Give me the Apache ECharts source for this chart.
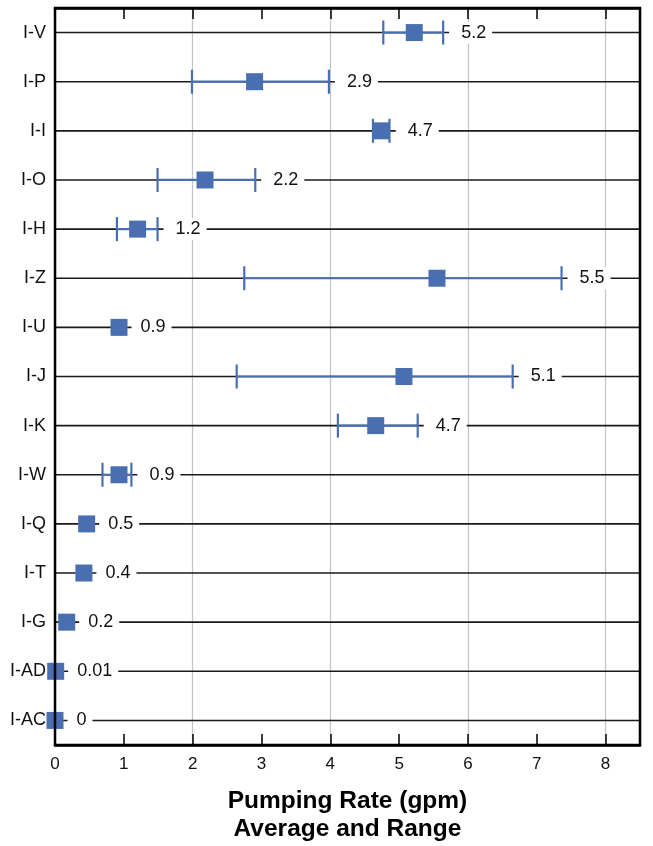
<!DOCTYPE html>
<html>
<head>
<meta charset="utf-8">
<script src="https://cdn.jsdelivr.net/npm/echarts@6/dist/echarts.min.js"></script>
<style>
html,body{margin:0;padding:0;background:#fff;}
#chart{width:653px;height:846px;}
</style>
</head>
<body>
<div id="chart"></div>
<script>
const categories = ['I-V','I-P','I-I','I-O','I-H','I-Z','I-U','I-J','I-K','I-W','I-Q','I-T','I-G','I-AD','I-AC'];
const averages   = [5.22, 2.90, 4.74, 2.18, 1.20, 5.55, 0.93, 5.07, 4.66, 0.93, 0.46, 0.42, 0.17, 0.01, 0];
const rangeLow   = [4.77, 1.99, 4.62, 1.49, 0.90, 2.75, null, 2.64, 4.11, 0.69, null, null, null, null, null];
const rangeHigh  = [5.64, 3.98, 4.86, 2.91, 1.49, 7.36, null, 6.65, 5.27, 1.11, null, null, null, null, null];
const valueLabels = ['5.2','2.9','4.7','2.2','1.2','5.5','0.9','5.1','4.7','0.9','0.5','0.4','0.2','0.01','0'];
const axisTitle = 'Pumping Rate (gpm)\nAverage and Range';

const BLUE = '#4a6fb1';
const FONT = '"Liberation Sans", Arial, Helvetica, sans-serif';

const seriesData = categories.map((c, i) => [
  i, averages[i],
  rangeLow[i] == null ? '-' : rangeLow[i],
  rangeHigh[i] == null ? '-' : rangeHigh[i]
]);

function renderItem(params, api) {
  const i = api.value(0);
  const mean = api.value(1);
  const lo = api.value(2), hi = api.value(3);
  const cs = params.coordSys;
  const c = api.coord([mean, i]);
  const y = c[1];
  const children = [];
  children.push({
    type: 'line', z2: 1,
    shape: {x1: cs.x, y1: y, x2: cs.x + cs.width, y2: y},
    style: {stroke: '#1a1a1a', lineWidth: 1.6}
  });
  const half = 8.5;
  let right = c[0] + half;
  let hasW = false;
  if (!isNaN(lo) && !isNaN(hi)) {
    hasW = true;
    const pl = api.coord([lo, i])[0], ph = api.coord([hi, i])[0];
    children.push({type: 'line', z2: 2, shape: {x1: pl, y1: y, x2: ph, y2: y}, style: {stroke: BLUE, lineWidth: 2.2}});
    children.push({type: 'line', z2: 2, shape: {x1: pl, y1: y - 12, x2: pl, y2: y + 12}, style: {stroke: BLUE, lineWidth: 2.2}});
    children.push({type: 'line', z2: 2, shape: {x1: ph, y1: y - 12, x2: ph, y2: y + 12}, style: {stroke: BLUE, lineWidth: 2.2}});
    right = Math.max(right, ph);
  }
  children.push({
    type: 'rect', z2: 3,
    shape: {x: c[0] - half, y: y - half, width: half * 2, height: half * 2},
    style: {fill: BLUE}
  });
  const boxStart = right + (hasW ? 6 : 4);
  const padL = hasW ? 12 : 9;
  children.push({
    type: 'text', z2: 4,
    x: boxStart, y: y,
    style: {
      text: valueLabels[i],
      fill: '#111',
      font: '18px ' + FONT,
      align: 'left', verticalAlign: 'middle',
      backgroundColor: '#fff',
      padding: [2, 6, 2, padL]
    }
  });
  return {type: 'group', children};
}

const chart = echarts.init(document.getElementById('chart'), null, {renderer: 'canvas'});
chart.setOption({
  animation: false,
  backgroundColor: '#fff',
  grid: {left: 55, right: 13, top: 8, bottom: 101, show: true, borderColor: '#000', borderWidth: 2.5, backgroundColor: 'transparent', z: 10, outerBoundsMode: 'none', containLabel: false},
  xAxis: [
    {
      type: 'value', min: 0, max: 8.5, interval: 1, position: 'bottom',
      axisLine: {show: true, lineStyle: {color: '#000', width: 2.5}},
      axisTick: {show: true, inside: true, length: 11, lineStyle: {color: '#000', width: 1.5}},
      axisLabel: {show: true, margin: 11, color: '#111', fontSize: 17, fontFamily: FONT, showMaxLabel: false,
        formatter: v => (Number.isInteger(v) ? String(v) : '')},
      splitLine: {show: false},
      name: axisTitle, nameLocation: 'middle', nameGap: 42,
      nameTextStyle: {fontSize: 24.5, fontWeight: 'bold', color: '#000', fontFamily: FONT, lineHeight: 28, verticalAlign: 'top', align: 'center'}
    },
    {
      type: 'value', min: 0, max: 8.5, interval: 1, position: 'top',
      axisLine: {show: true, lineStyle: {color: '#000', width: 2.5}},
      axisTick: {show: true, inside: true, length: 11, lineStyle: {color: '#000', width: 1.5}},
      axisLabel: {show: false},
      splitLine: {show: false}
    },
    {
      type: 'value', min: 0, max: 8.5, interval: 2, position: 'bottom', offset: 0,
      axisLine: {show: false}, axisTick: {show: false}, axisLabel: {show: false},
      splitLine: {show: true, lineStyle: {color: '#c4c4c4', width: 1.2}}
    }
  ],
  yAxis: {
    type: 'category', data: categories, inverse: true, boundaryGap: true,
    axisLine: {show: false}, axisTick: {show: false},
    axisLabel: {margin: 9, color: '#111', fontSize: 18, fontFamily: FONT},
    splitLine: {show: false}
  },
  series: [{
    type: 'custom',
    xAxisIndex: 0,
    renderItem: renderItem,
    encode: {x: 1, y: 0},
    data: seriesData,
    clip: false
  }]
});
</script>
</body>
</html>
